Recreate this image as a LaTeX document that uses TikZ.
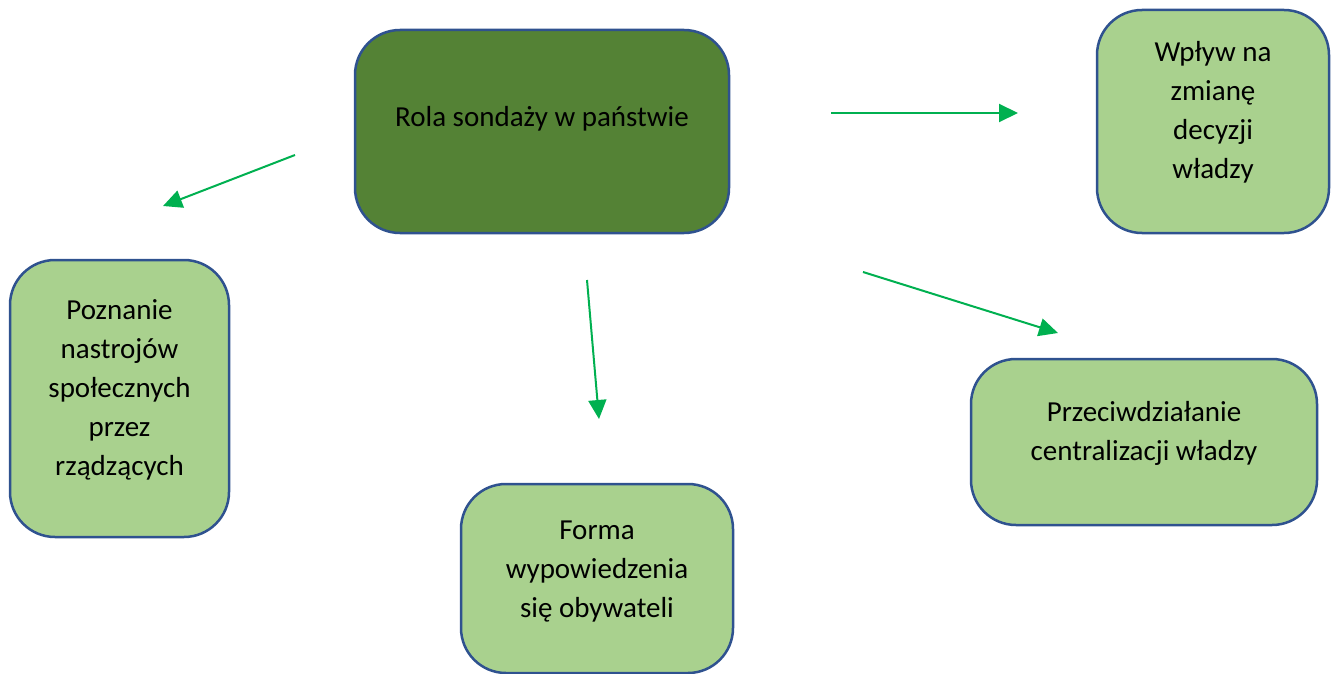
\documentclass[tikz,border=0pt]{standalone}
\usepackage{fontspec}
\setmainfont{Carlito}
\usetikzlibrary{arrows.meta}
\definecolor{darkleaf}{HTML}{548235}
\definecolor{lightleaf}{HTML}{A9D18E}
\definecolor{edgeblue}{HTML}{2F528F}
\definecolor{arrowgreen}{HTML}{00B050}
\tikzset{box/.style={rectangle,rounded corners=45pt,draw=edgeblue,line width=2.5pt,inner sep=0pt},
root/.style={box,fill=darkleaf},
leaf/.style={box,fill=lightleaf},
txt/.style={align=center,inner sep=0pt,font=\fontsize{29}{39}\selectfont},
link/.style={color=arrowgreen,line width=2pt,->},
>={Triangle[length=19pt,width=18pt]}}
\begin{document}
\begin{tikzpicture}[x=1pt,y=-1pt]
  \useasboundingbox (0,0) rectangle (1338,674);
  \node (rola) [root,minimum width=374pt,minimum height=203pt] at (542,131.5) {};
  \node (wplyw) [leaf,minimum width=232pt,minimum height=223pt] at (1213,121.5) {};
  \node (poznanie) [leaf,minimum width=219pt,minimum height=277pt] at (119.5,398.5) {};
  \node (forma) [leaf,minimum width=272pt,minimum height=189pt] at (597,578.5) {};
  \node (przeciw) [leaf,minimum width=346pt,minimum height=166pt] at (1144,442) {};
  % texts, a little above the middle
  \node (rolatxt) [txt] at ([yshift=13pt]rola.center) {Rola sondaży w państwie};
  \node (wplywtxt) [txt] at ([yshift=9pt]wplyw.center) {Wpływ na\\zmianę\\decyzji\\władzy};
  \node (poznanietxt) [txt] at ([yshift=9pt]poznanie.center) {Poznanie\\nastrojów\\społecznych\\przez\\rządzących};
  \node (formatxt) [txt] at ([yshift=7pt]forma.center) {Forma\\wypowiedzenia\\się obywateli};
  \node (przeciwtxt) [txt] at ([yshift=9pt]przeciw.center) {Przeciwdziałanie\\centralizacji władzy};
  % loose arrow ends
  \coordinate (a1) at (295,155); \coordinate (b1) at (163,206);
  \coordinate (a2) at (831,113); \coordinate (b2) at (1018,113);
  \coordinate (a3) at (587,280); \coordinate (b3) at (599,419);
  \coordinate (a4) at (863,272); \coordinate (b4) at (1058,333);
  \draw [link] (a1) -- (b1);
  \draw [link] (a2) -- (b2);
  \draw [link] (a3) -- (b3);
  \draw [link] (a4) -- (b4);
\end{tikzpicture}
\end{document}
